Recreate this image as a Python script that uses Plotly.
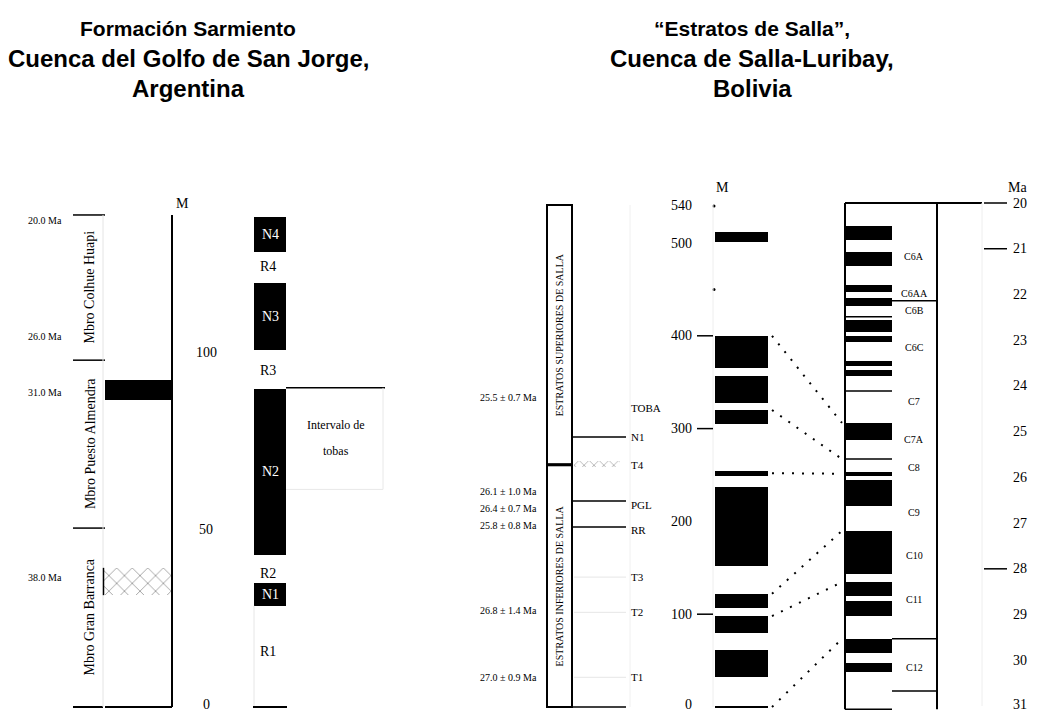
import plotly.graph_objects as go

W, H = 1037, 713

# ------------------------------------------------------------------ DATA
# Left chart: Formacion Sarmiento (metres)
sar_members = ["Mbro Colhue Huapi", "Mbro Puesto Almendra", "Mbro Gran Barranca"]
sar_member_top = [138.6, 97.7, 50.4]
sar_member_base = [97.7, 50.4, 0.0]
sar_age_labels = ["20.0 Ma", "26.0 Ma", "31.0 Ma", "38.0 Ma"]
sar_age_m = [137.0, 104.5, 88.7, 36.6]
sar_black_base = [86.5]
sar_black_top = [92.0]
sar_hatch_base = [31.5]
sar_hatch_top = [39.2]
sar_ticks = [0, 50, 100]
sar_normal_names = ["N1", "N2", "N3", "N4"]
sar_normal_base = [28.5, 42.8, 100.6, 128.2]
sar_normal_top = [34.9, 89.6, 119.4, 138.0]
sar_reversed_names = ["R1", "R2", "R3", "R4"]
sar_reversed_mid = [15.5, 37.7, 94.9, 124.0]
sar_interval_text = ["Intervalo de", "tobas"]
sar_interval_top = 89.9
sar_interval_base = 61.3

# Right chart: Estratos de Salla (metres)
salla_units = ["ESTRATOS SUPERIORES DE SALLA", "ESTRATOS INFERIORES DE SALLA"]
salla_unit_top = [541, 261]
salla_unit_base = [261, 0]
salla_level_lines = [291, 222, 194, 0]
salla_level_faint = [140, 102, 32]
salla_level_names = ["TOBA", "N1", "T4", "PGL", "RR", "T3", "T2", "T1"]
salla_level_m = [322, 291, 261, 218, 191, 140, 102, 32]
salla_hatch_base = [259]
salla_hatch_top = [265]
salla_dates = ["25.5 ± 0.7 Ma", "26.1 ± 1.0 Ma", "26.4 ± 0.7 Ma",
               "25.8 ± 0.8 Ma", "26.8 ± 1.4 Ma", "27.0 ± 0.9 Ma"]
salla_dates_m = [333, 232, 214, 196, 104.5, 32]
salla_normal_base = [501, 365, 328, 305, 249, 152, 107, 80, 32, -1.5]
salla_normal_top = [512, 400, 357, 320, 254, 237, 122, 98, 61, 1.5]
salla_tick_labels = [0, 100, 200, 300, 400, 500, 540]
salla_tick_marks = [100, 300, 400]
salla_tick_dots = [450, 540]

# Geomagnetic polarity time scale (Ma)
gpts_normal_base = [20.50, 21.07, 21.79, 22.08, 22.56, 22.91, 23.46, 23.65, 24.81,
                    25.88, 26.06, 27.17, 28.29, 28.70, 29.53, 30.06]
gpts_normal_top = [20.81, 21.38, 21.95, 22.25, 22.82, 23.04, 23.56, 23.78, 25.18,
                   25.97, 26.63, 28.11, 28.59, 29.03, 29.84, 30.26]
gpts_thin_lines = [22.49, 24.11, 25.60, 31.07]
chron_bounds = [22.14, 29.53, 30.67]
chron_names = ["C6A", "C6AA", "C6B", "C6C", "C7", "C7A", "C8", "C9", "C10", "C11", "C12"]
chron_ma = [21.18, 21.97, 22.36, 23.15, 24.35, 25.18, 25.79, 26.76, 27.70, 28.68, 30.15]
ma_ticks = [20, 21, 22, 23, 24, 25, 26, 27, 28, 29, 30, 31]
ma_tick_marks = [20, 21, 28]

# correlations metres -> Ma
corr_m = [400, 320, 252, 122, 98, 0]
corr_ma = [24.81, 25.60, 25.92, 27.17, 28.29, 29.53]

# titles
title_left = ["Formación Sarmiento", "Cuenca del Golfo de San Jorge,", "Argentina"]
title_right = ["“Estratos de Salla”,", "Cuenca de Salla-Luribay,", "Bolivia"]

# ------------------------------------------------------------------ LAYOUT CONSTANTS
Y1 = [-(H - 707) / 3.55, 707 / 3.55]
Y2 = [-(H - 707) / 0.928, 707 / 0.928]
pma = (706 - 203) / 11
Y3 = [20 + (H - 203) / pma, 20 - 203 / pma]

SERIF = "Liberation Serif"
SANS = "Liberation Sans"

fig = go.Figure()
shapes = []
ann = []


def line(x0, x1, y0, y1, yref, width=1.5, color="black", dash=None):
    d = dict(type="line", xref="x", yref=yref, x0=x0, x1=x1, y0=y0, y1=y1,
             line=dict(color=color, width=width))
    if dash:
        d["line"]["dash"] = dash
    shapes.append(d)


def text(x, y, t, yref, size=12, family=SERIF, color="black", xanchor="center",
         yanchor="middle", angle=0, bold=False, yshift=0):
    ann.append(dict(x=x, y=y, xref="x", yref=yref, text=(f"<b>{t}</b>" if bold else t),
                    showarrow=False, xanchor=xanchor, yanchor=yanchor, textangle=angle,
                    yshift=yshift, font=dict(family=family, size=size, color=color)))


def bars(xc, w, base, top, yaxis, **marker):
    fig.add_trace(go.Bar(x=[xc] * len(base), y=[t - b for b, t in zip(base, top)],
                         base=base, width=[w] * len(base), yaxis=yaxis,
                         marker=dict(line=dict(width=0), **marker),
                         showlegend=False, hoverinfo="skip"))


# ------------------------------------------------------------------ TITLES
title_sizes = [21, 24, 24]
title_y = [28, 58, 88]
for i in range(3):
    ann.append(dict(x=188, y=1 - title_y[i] / H, xref="x", yref="paper",
                    text=f"<b>{title_left[i]}</b>", showarrow=False,
                    xanchor="center", yanchor="middle",
                    font=dict(family=SANS, size=title_sizes[i], color="black")))
    ann.append(dict(x=752, y=1 - title_y[i] / H, xref="x", yref="paper",
                    text=f"<b>{title_right[i]}</b>", showarrow=False,
                    xanchor="center", yanchor="middle",
                    font=dict(family=SANS, size=title_sizes[i], color="black")))

# ------------------------------------------------------------------ LEFT CHART
for name, top, base in zip(sar_members, sar_member_top, sar_member_base):
    line(73, 105, top, top, "y")
    text(90, (top + base) / 2, name, "y", size=14, angle=-90)
line(73, 103, 0, 0, "y", width=2)
line(103, 103, 0, sar_member_top[0], "y", width=1, color="#e4e4e4")
for lab, m in zip(sar_age_labels, sar_age_m):
    text(45, m, lab, "y", size=10)

bars(138.5, 67, sar_black_base, sar_black_top, "y", color="black")
fig.add_trace(go.Bar(x=[137], y=[sar_hatch_top[0] - sar_hatch_base[0]], base=sar_hatch_base,
                     width=[68], yaxis="y", showlegend=False, hoverinfo="skip",
                     marker=dict(color="white", line=dict(width=0),
                                 pattern=dict(shape="x", fgcolor="black", size=11, solidity=0.12))))
line(103.5, 103.5, sar_hatch_base[0], sar_hatch_top[0], "y", width=1.5)

# metre axis
line(172, 172, 0, sar_member_top[0], "y", width=2)
line(105, 172, 0, 0, "y", width=2)
text(174, sar_member_top[0] + 0.5, "M", "y", size=14, xanchor="left", yanchor="bottom")
for t in sar_ticks:
    text(206, t, str(t), "y", size=14, yshift=(3 if t == 0 else 0))

# magnetostratigraphy
bars(270, 32, sar_normal_base, sar_normal_top, "y", color="black")
for n, b, t in zip(sar_normal_names, sar_normal_base, sar_normal_top):
    text(270, (b + t) / 2, n, "y", size=14, color="white")
for n, m in zip(sar_reversed_names, sar_reversed_mid):
    text(268, m, n, "y", size=14)
line(254, 254, 0, sar_normal_base[0], "y", width=1, color="#e6e6e6")
line(253, 287, 0, 0, "y", width=2)

# interval box
line(286, 385, sar_interval_top, sar_interval_top, "y", width=1.5)
line(383, 383, sar_interval_base, sar_interval_top, "y", width=1, color="#e8e8e8")
line(286, 383, sar_interval_base, sar_interval_base, "y", width=1, color="#e8e8e8")
text(336, 79.5, sar_interval_text[0], "y", size=12)
text(336, 72.0, sar_interval_text[1], "y", size=12)

# ------------------------------------------------------------------ RIGHT CHART
# lithostratigraphic units
for name, top, base in zip(salla_units, salla_unit_top, salla_unit_base):
    shapes.append(dict(type="rect", xref="x", yref="y2", x0=547, x1=572, y0=base, y1=top,
                       line=dict(color="black", width=2)))
    text(559.5, (top + base) / 2, name, "y2", size=10, angle=-90)
line(547, 572, salla_unit_base[0], salla_unit_base[0], "y2", width=3)
for m in salla_level_lines:
    line(572, 626, m, m, "y2", width=1.5)
for m in salla_level_faint:
    line(574, 626, m, m, "y2", width=1, color="#e6e6e6")
line(630, 630, 0, 541, "y2", width=1, color="#f0f0f0")
fig.add_trace(go.Bar(x=[597], y=[salla_hatch_top[0] - salla_hatch_base[0]], base=salla_hatch_base,
                     width=[46], yaxis="y2", showlegend=False, hoverinfo="skip",
                     marker=dict(color="white", line=dict(width=0),
                                 pattern=dict(shape="x", fgcolor="black", size=7, solidity=0.15))))
for n, m in zip(salla_level_names, salla_level_m):
    text(629, m, n, "y2", size=11, xanchor="left")
for d, m in zip(salla_dates, salla_dates_m):
    text(539, m, d, "y2", size=10, xanchor="right")

# metre section
line(713, 713, 0, 541, "y2", width=1, color="#eeeeee")
bars(741.5, 53, salla_normal_base, salla_normal_top, "y2", color="black")
for t in salla_tick_labels:
    text(694, t, str(t), "y2", size=14, xanchor="right", yshift=(3 if t == 0 else 0))
for t in salla_tick_marks:
    line(697, 713, t, t, "y2", width=1.5)
fig.add_trace(go.Scatter(x=[714] * len(salla_tick_dots), y=salla_tick_dots, yaxis="y2",
                         mode="markers", marker=dict(color="black", size=3),
                         showlegend=False, hoverinfo="skip"))
text(714, 560, "M", "y2", size=14, xanchor="left")

# polarity time scale
bars(868.5, 47, gpts_normal_base, gpts_normal_top, "y3", color="black")
for v in gpts_thin_lines:
    line(845, 892, v, v, "y3", width=1.5)
line(845, 845, 20, gpts_thin_lines[-1], "y3", width=2)
line(937, 937, 20, gpts_thin_lines[-1], "y3", width=2)
line(845, 982, 20, 20, "y3", width=2)
line(982, 982, 20, 31, "y3", width=1, color="#eeeeee")
for v in chron_bounds:
    line(892, 937, v, v, "y3", width=1.5)
for n, v in zip(chron_names, chron_ma):
    text(914, v, n, "y3", size=10)
for t in ma_ticks:
    text(1011, t, str(t), "y3", size=14, xanchor="left", yshift=(2 if t == 31 else 0))
for t in ma_tick_marks:
    line(984, 1007, t, t, "y3", width=1.5)
text(1006, 19.65, "Ma", "y3", size=14, xanchor="left")


# correlation ties (metres converted to the Ma axis through the two axis scales)
def m_to_y3(m):
    frac = (m - Y2[0]) / (Y2[1] - Y2[0])
    return Y3[0] + frac * (Y3[1] - Y3[0])


for m, ma in zip(corr_m, corr_ma):
    fig.add_trace(go.Scatter(x=[772, 842], y=[m_to_y3(m), ma], yaxis="y3", mode="lines",
                             line=dict(color="black", width=2, dash="2px,8px"),
                             showlegend=False, hoverinfo="skip"))

# ------------------------------------------------------------------ LAYOUT
fig.update_layout(
    width=W, height=H, margin=dict(l=0, r=0, t=0, b=0, pad=0),
    paper_bgcolor="white", plot_bgcolor="white", barmode="overlay", bargap=0,
    xaxis=dict(range=[0, W], visible=False, fixedrange=True),
    yaxis=dict(range=Y1, visible=False),
    yaxis2=dict(range=Y2, visible=False, overlaying="y"),
    yaxis3=dict(range=Y3, visible=False, overlaying="y"),
    shapes=shapes, annotations=ann, showlegend=False,
)
fig.write_html("out.html", config={"displayModeBar": False},
               post_script="document.body.style.margin='0px';document.body.style.overflow='hidden';")
